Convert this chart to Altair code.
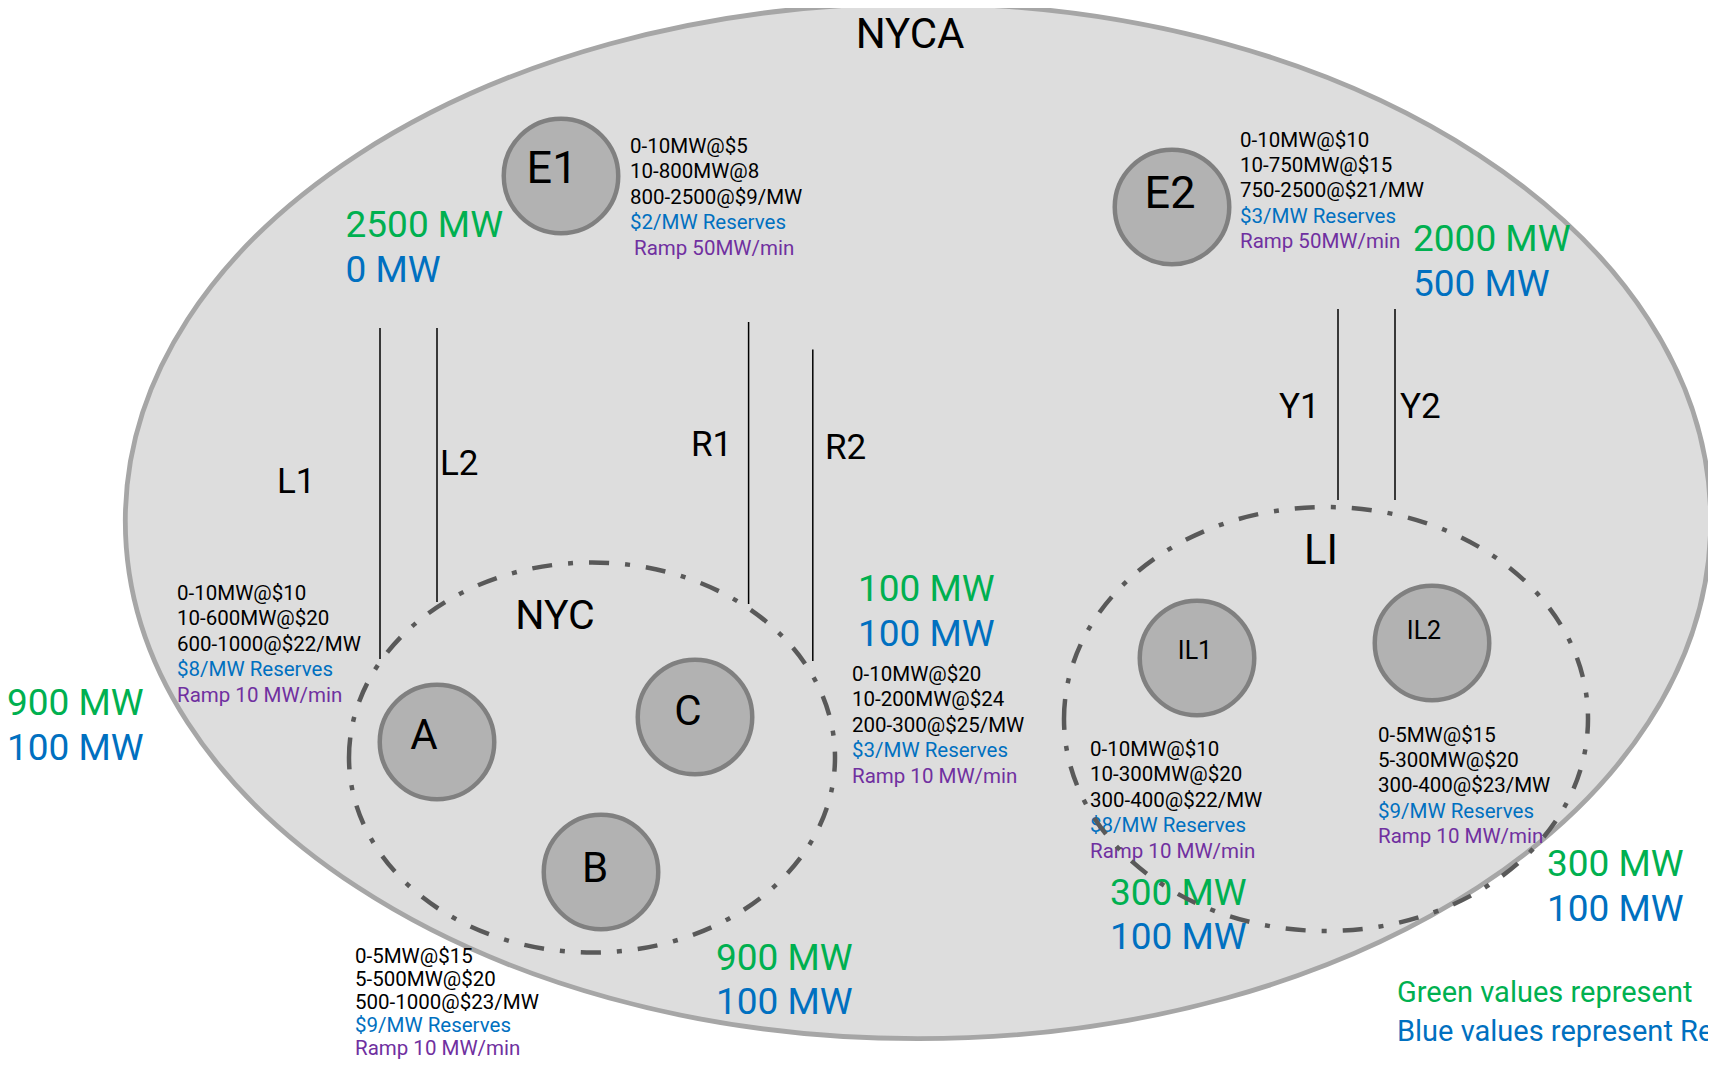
import altair as alt
import pandas as pd

# ---------------- content ----------------
region_labels = ["NYCA", "NYC", "LI"]
node_labels = ["E1", "E2", "A", "B", "C", "IL1", "IL2"]
line_labels = ["L1", "L2", "R1", "R2", "Y1", "Y2"]

offer_E1 = ["0-10MW@$5", "10-800MW@8", "800-2500@$9/MW", "$2/MW Reserves", " Ramp 50MW/min"]
offer_E2 = ["0-10MW@$10", "10-750MW@$15", "750-2500@$21/MW", "$3/MW Reserves", "Ramp 50MW/min"]
offer_A = ["0-10MW@$10", "10-600MW@$20", "600-1000@$22/MW", "$8/MW Reserves", "Ramp 10 MW/min"]
offer_C = ["0-10MW@$20", "10-200MW@$24", "200-300@$25/MW", "$3/MW Reserves", "Ramp 10 MW/min"]
offer_B = ["0-5MW@$15", "5-500MW@$20", "500-1000@$23/MW", "$9/MW Reserves", "Ramp 10 MW/min"]
offer_IL1 = ["0-10MW@$10", "10-300MW@$20", "300-400@$22/MW", "$8/MW Reserves", "Ramp 10 MW/min"]
offer_IL2 = ["0-5MW@$15", "5-300MW@$20", "300-400@$23/MW", "$9/MW Reserves", "Ramp 10 MW/min"]

green_values = ["2500 MW", "2000 MW", "900 MW", "100 MW", "900 MW", "300 MW", "300 MW"]
blue_values = ["0 MW", "500 MW", "100 MW", "100 MW", "100 MW", "100 MW", "100 MW"]
legend_lines = ["Green values represent", "Blue values represent Reserves"]

# ---------------- layout (diagram coordinates, px) ----------------
W, H = 1700, 1051
GREEN, BLUE, PURPLE, BLACK = "#00b050", "#0070c0", "#7030a0", "#000000"

node_cx = [561, 1172, 437, 601, 695, 1197, 1432]
node_cy = [176, 207, 742, 872, 717, 658, 643]

line_x = [380, 437, 748.6, 812.8, 1338, 1395]
line_top = [328, 328, 322, 349.5, 309, 309]
line_bot = [659, 602, 604, 661, 500, 500]

offer_x = [630, 1240, 177, 852, 355, 1090, 1378]
offer_base = [153, 146.5, 600, 681, 962.5, 756, 741.5]
offer_step = [25.4, 25.4, 25.4, 25.4, 23.0, 25.4, 25.4]
offer_blocks = [offer_E1, offer_E2, offer_A, offer_C, offer_B, offer_IL1, offer_IL2]

val_x = [345.5, 1413, 7, 858, 716, 1110, 1547]
val_y = [237, 251, 715, 601, 969.5, 904.5, 876]
val_gap = 44.5

xs = alt.Scale(domain=[8, 8 + W], nice=False, zero=False)
ys = alt.Scale(domain=[8, 8 + H], nice=False, zero=False, reverse=True)


def X(f="x"):
    return alt.X(f"{f}:Q", scale=xs, axis=None)


def Y(f="y"):
    return alt.Y(f"{f}:Q", scale=ys, axis=None)


def ellipse(k):
    return f"M -1 0 A 1 {k:.4f} 0 1 1 1 0 A 1 {k:.4f} 0 1 1 -1 0 Z"


# big NYCA ellipse
nyca = alt.Chart(pd.DataFrame({"x": [918], "y": [521]})).mark_point(
    shape=ellipse(517.7 / 792.7), size=1585.4 ** 2, filled=True, fill="#dddddd",
    stroke="#a6a6a6", strokeWidth=4.8, opacity=1, clip=True
).encode(x=X(), y=Y())

# dash-dot zones
nyc_zone = alt.Chart(pd.DataFrame({"x": [592], "y": [757.5]})).mark_point(
    shape=ellipse(195 / 243), size=486 ** 2, filled=False, stroke="#595959",
    strokeWidth=4.5, strokeDash=[20, 16, 5, 16], opacity=1, clip=True
).encode(x=X(), y=Y())
li_zone = alt.Chart(pd.DataFrame({"x": [1326], "y": [719]})).mark_point(
    shape=ellipse(212 / 262), size=524 ** 2, filled=False, stroke="#595959",
    strokeWidth=4.5, strokeDash=[20, 16, 5, 16], opacity=1, clip=True
).encode(x=X(), y=Y())

# transmission lines
lines_df = pd.DataFrame({"name": line_labels, "x": line_x, "y1": line_top, "y2": line_bot})
lines = alt.Chart(lines_df).mark_rule(color="black", strokeWidth=1.5, clip=True).encode(
    x=X(), y=Y("y1"), y2="y2:Q"
)

# nodes
nodes_df = pd.DataFrame({"name": node_labels, "x": node_cx, "y": node_cy})
nodes = alt.Chart(nodes_df).mark_point(
    shape="circle", size=114.5 ** 2, filled=True, fill="#b2b2b2", stroke="#808080",
    strokeWidth=4.5, opacity=1, clip=True
).encode(x=X(), y=Y())

# centred labels
c_rows = [
    ("NYCA", 910, 48, 42), ("NYC", 555, 629, 41), ("LI", 1321, 563.5, 42),
    ("E1", 552, 182.5, 45), ("E2", 1170, 208, 45), ("A", 424, 749, 42),
    ("B", 595, 882, 42), ("C", 688, 725, 42), ("IL1", 1195, 659, 25), ("IL2", 1424, 638.5, 25),
]
c_df = pd.DataFrame(c_rows, columns=["t", "x", "y", "s"])
c_text = alt.Chart(c_df).mark_text(align="center", baseline="alphabetic", font="Roboto",
                                    color=BLACK, clip=True).encode(
    x=X(), y=Y(), text="t:N", size=alt.Size("s:Q", scale=None)
)

# left aligned texts
rows = []
line_lab_pos = [(277, 493), (440, 475), (691, 456), (825, 459), (1279, 418), (1400, 418)]
for lab, (lx, ly) in zip(line_labels, line_lab_pos):
    rows.append((lab, lx, ly, 35, BLACK))
for block, ox, ob, st in zip(offer_blocks, offer_x, offer_base, offer_step):
    cols = [BLACK, BLACK, BLACK, BLUE, PURPLE]
    for i, (t, c) in enumerate(zip(block, cols)):
        indent = 4 if t.startswith(" ") else 0
        rows.append((t.strip(), ox + indent, ob + i * st, 20.5, c))
for g, b, vx, vy in zip(green_values, blue_values, val_x, val_y):
    rows.append((g, vx, vy, 37, GREEN))
    rows.append((b, vx, vy + val_gap, 37, BLUE))
rows.append((legend_lines[0], 1397, 1002, 29, GREEN))
rows.append((legend_lines[1], 1397, 1041, 29, BLUE))
l_df = pd.DataFrame(rows, columns=["t", "x", "y", "s", "c"])
l_text = alt.Chart(l_df).mark_text(align="left", baseline="alphabetic", font="Roboto",
                                    clip=True).encode(
    x=X(), y=Y(), text="t:N", size=alt.Size("s:Q", scale=None),
    color=alt.Color("c:N", scale=None)
)

chart = alt.layer(nyca, lines, nodes, c_text, l_text, nyc_zone, li_zone).properties(
    width=W, height=H, padding=0, autosize=alt.AutoSizeParams(type="none"),
    background="white"
).configure_view(strokeWidth=0)

chart.save("out.html", embed_options={"renderer": "svg", "actions": False})
